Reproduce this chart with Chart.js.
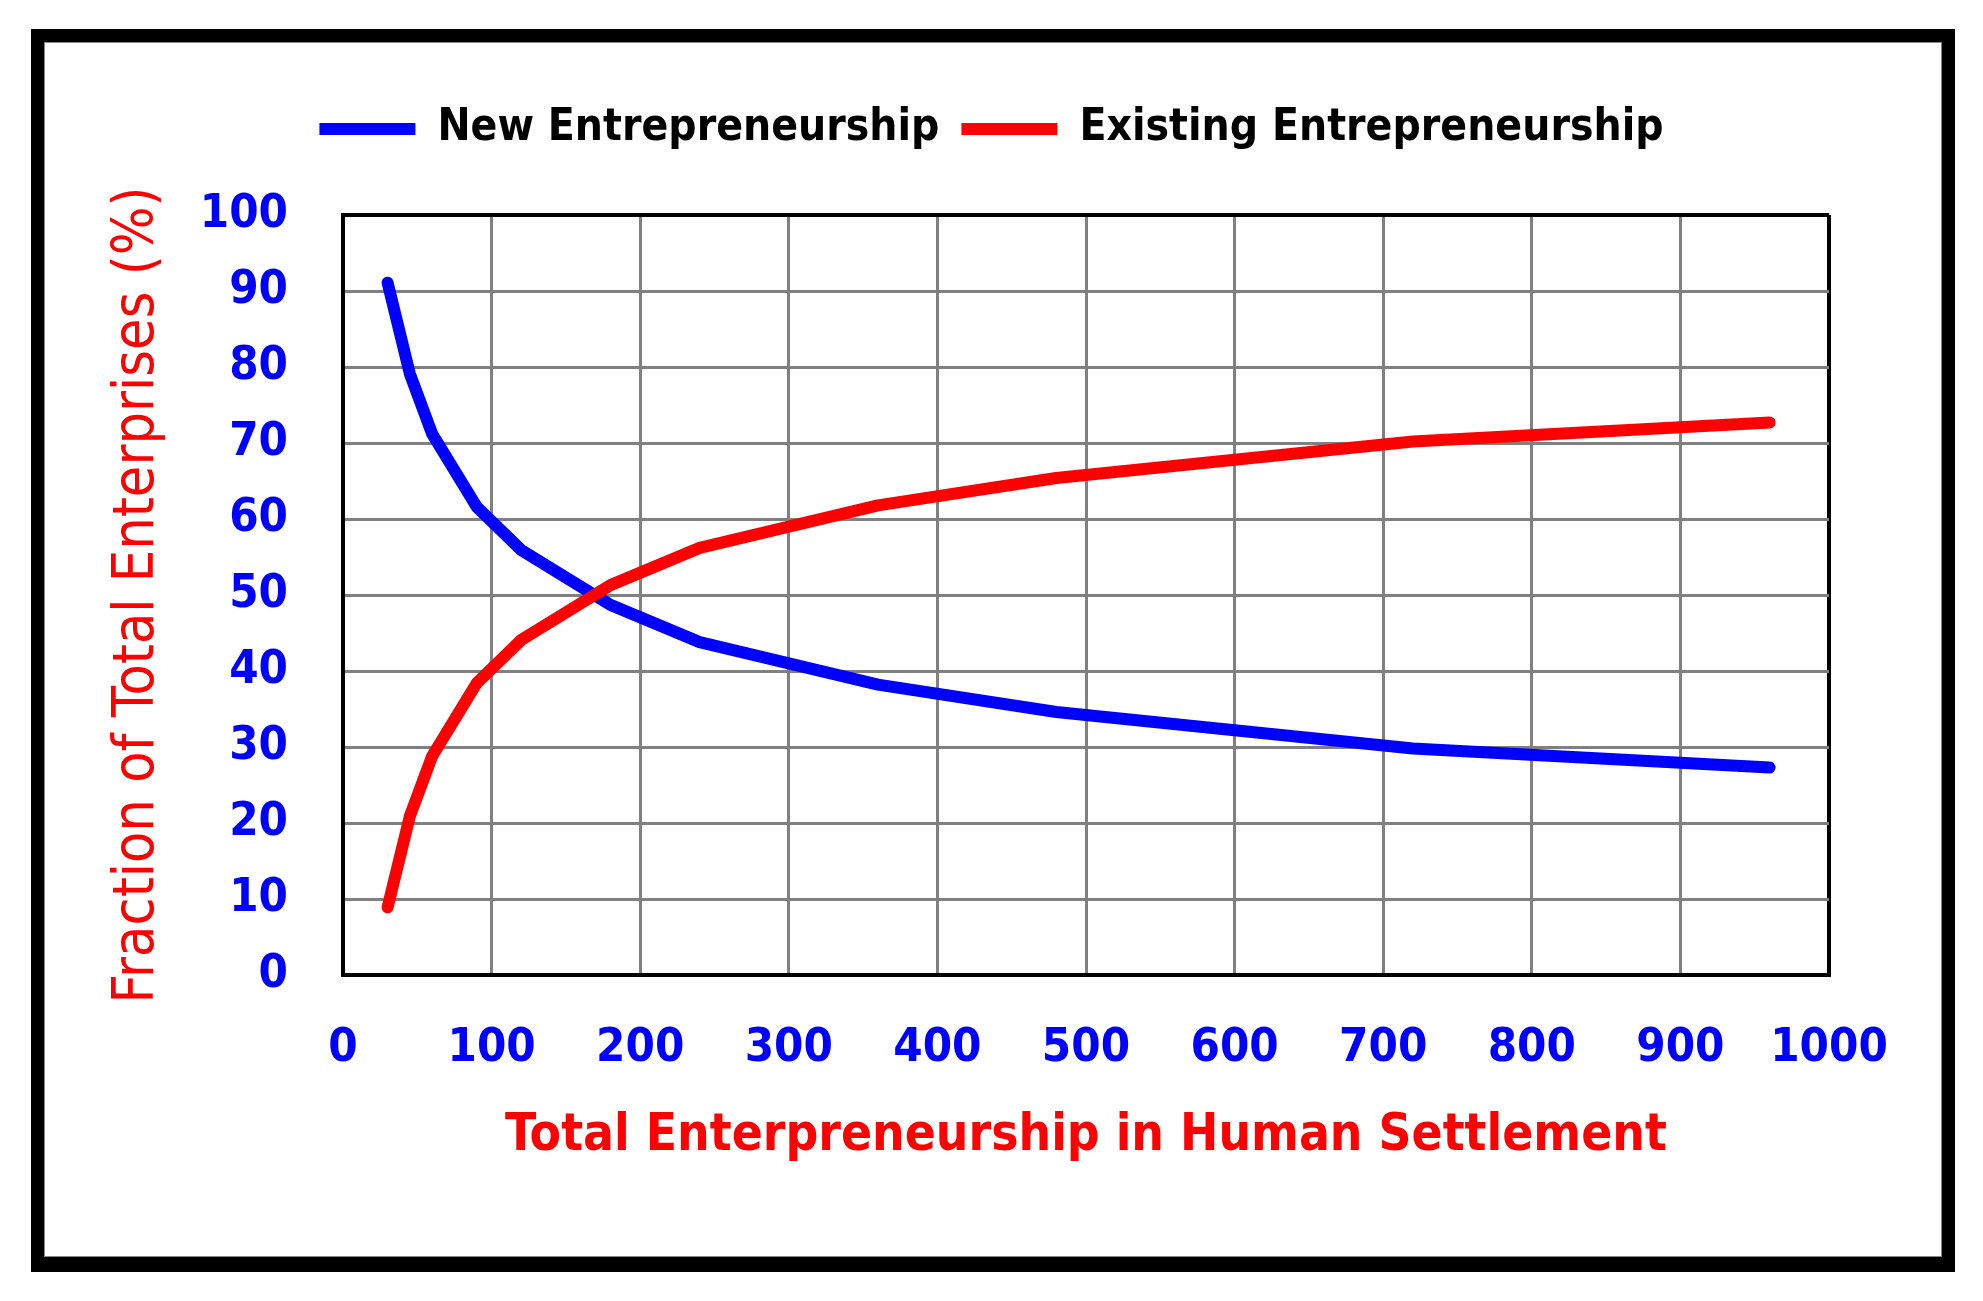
<!DOCTYPE html>
<html>
<head>
<meta charset="utf-8">
<script src="https://cdn.jsdelivr.net/npm/chart.js@4.4.1/dist/chart.umd.min.js"></script>
<style>
  body { margin: 0; background: #fff; }
  canvas { position: absolute; left: 0; top: 0; }
  #frame {
    position: absolute; left: 31px; top: 29px; width: 1924px; height: 1243px;
    box-sizing: border-box; border: 13px solid #000; border-bottom-width: 15px;
    box-shadow: inset 0 0 0 1px #888; pointer-events: none;
  }
</style>
</head>
<body>
<canvas id="chart" width="1983" height="1301"></canvas>
<div id="frame"></div>
<script>
// total enterprises in the settlement
const settlementSize = [30, 45, 60, 90, 120, 180, 240, 360, 480, 720, 960];
// share of new / existing enterprises (%)
const newShare = [91.1, 79.1, 71.2, 61.6, 55.9, 48.7, 43.8, 38.2, 34.6, 29.8, 27.3];
const existingShare = [8.9, 20.9, 28.8, 38.4, 44.1, 51.3, 56.2, 61.8, 65.4, 70.2, 72.7];

const xMin = 0, xMax = 1000, xStep = 100;
const yMin = 0, yMax = 100, yStep = 10;

const FONT = "'DejaVu Sans Condensed', 'DejaVu Sans', sans-serif";

function toPoints(values) {
    return settlementSize.map((x, i) => ({ x: x, y: values[i] }));
}

// grid lines on the plot edges are drawn black like the frame
function gridColor(min, max) {
    return (c) => (c.tick && (c.tick.value === min || c.tick.value === max)) ? '#000' : '#808080';
}
function gridWidth(min, max) {
    return (c) => (c.tick && (c.tick.value === min || c.tick.value === max)) ? 4 : 3;
}

// push the plot down below the legend
const legendSpacing = {
    id: 'legendSpacing',
    beforeInit(chart) {
        const fit = chart.legend.fit;
        chart.legend.fit = function () {
            fit.call(this);
            this.height += 54;
        };
    }
};

new Chart(document.getElementById('chart'), {
    type: 'line',
    data: {
        datasets: [{
            label: 'New Entrepreneurship',
            data: toPoints(newShare),
            borderColor: '#0000ff',
            backgroundColor: '#0000ff',
            borderWidth: 12,
            borderCapStyle: 'round',
            borderJoinStyle: 'round',
            pointRadius: 0,
            tension: 0,
            order: 1
        }, {
            label: 'Existing Entrepreneurship',
            data: toPoints(existingShare),
            borderColor: '#ff0000',
            backgroundColor: '#ff0000',
            borderWidth: 12,
            borderCapStyle: 'round',
            borderJoinStyle: 'round',
            pointRadius: 0,
            tension: 0,
            order: 0
        }]
    },
    options: {
        responsive: false,
        animation: false,
        devicePixelRatio: 1,
        layout: { padding: { top: 85, left: 0, right: 0, bottom: 0 } },
        plugins: {
            tooltip: { enabled: false },
            legend: {
                position: 'top',
                labels: {
                    usePointStyle: true,
                    pointStyle: 'line',
                    pointStyleWidth: 96,
                    padding: 22,
                    color: '#000',
                    font: { family: FONT, size: 44, weight: 'bold' },
                    sort: (a, b) => a.datasetIndex - b.datasetIndex
                }
            }
        },
        scales: {
            x: {
                type: 'linear',
                position: 'bottom',
                min: xMin,
                max: xMax,
                ticks: {
                    stepSize: xStep,
                    color: '#0000ff',
                    padding: 46,
                    maxRotation: 0,
                    autoSkip: false,
                    font: { family: FONT, size: 47, weight: 'bold' },
                    callback: (v) => String(v)
                },
                grid: { color: gridColor(xMin, xMax), lineWidth: gridWidth(xMin, xMax), drawTicks: false },
                border: { color: '#000', width: 4 },
                title: {
                    display: true,
                    text: 'Total Enterpreneurship in Human Settlement',
                    color: '#ff0000',
                    font: { family: FONT, size: 51, weight: 'bold', lineHeight: 1 },
                    padding: { top: 0, bottom: 139 }
                },
                afterFit(scale) { scale.height = 326; }
            },
            y: {
                position: 'left',
                min: yMin,
                max: yMax,
                ticks: {
                    stepSize: yStep,
                    color: '#0000ff',
                    padding: 55,
                    font: { family: FONT, size: 47, weight: 'bold' },
                    callback: (v) => String(v)
                },
                grid: { color: gridColor(yMin, yMax), lineWidth: gridWidth(yMin, yMax), drawTicks: false },
                border: { color: '#000', width: 4 },
                title: {
                    display: true,
                    text: 'Fraction of Total Enterprises (%)',
                    color: '#ff0000',
                    font: { family: FONT, size: 57, weight: 'normal', lineHeight: 1 },
                    padding: { top: 110, bottom: 0 }
                },
                afterFit(scale) { scale.width = 343; }
            },
            // empty right-hand axis that only reserves the margin right of the plot
            yRight: {
                position: 'right',
                display: true,
                grid: { display: false },
                border: { display: false },
                ticks: { display: false },
                afterFit(scale) { scale.width = 154; }
            }
        }
    },
    plugins: [legendSpacing]
});
</script>
</body>
</html>
